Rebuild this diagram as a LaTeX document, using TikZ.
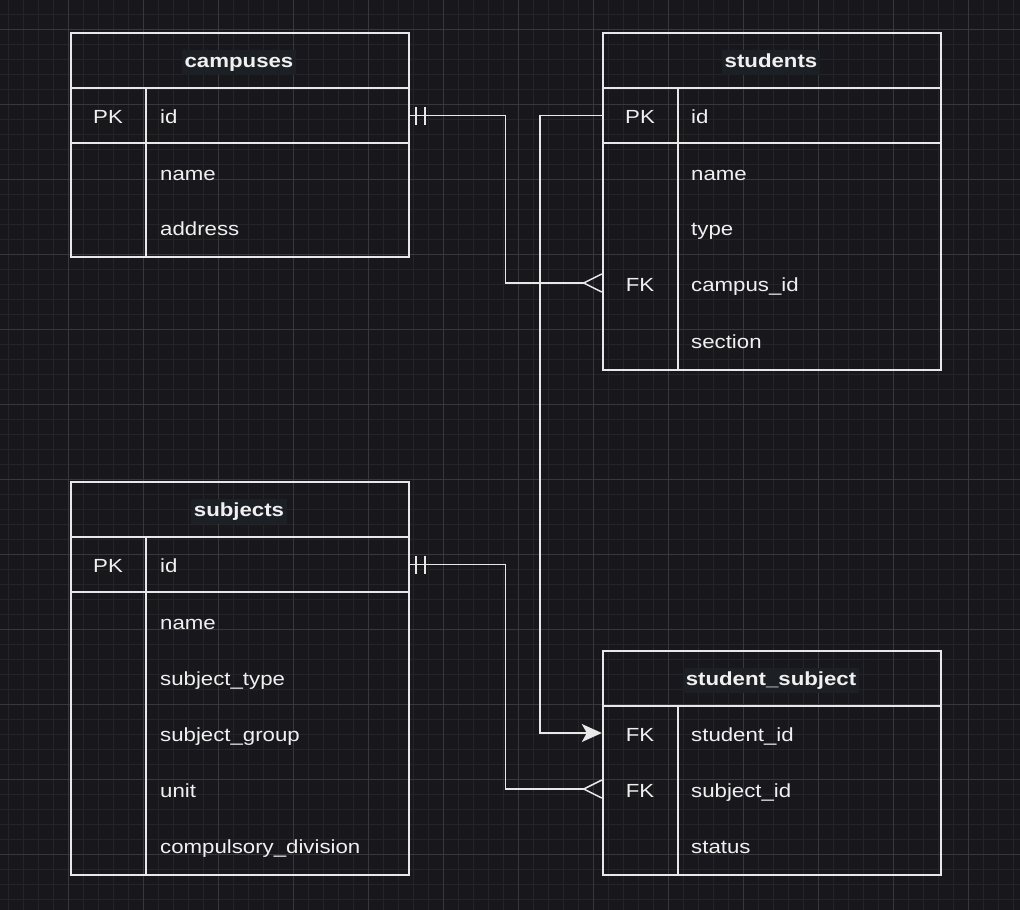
\documentclass[tikz,border=0pt]{standalone}
\usepackage{fontspec}
\setmainfont{Liberation Sans}[FakeStretch=1.17]
\usetikzlibrary{arrows.meta}
\definecolor{bg}{HTML}{18171C}
\definecolor{minorc}{HTML}{252429}
\definecolor{majorc}{HTML}{38383C}
\definecolor{linec}{HTML}{E8E8E8}
\definecolor{textc}{HTML}{F0F0F0}
\definecolor{labelbg}{HTML}{1C2024}
\begin{document}
\begin{tikzpicture}[x=1pt,y=-1pt,
  minorgrid/.style={draw=minorc,line width=1pt},
  majorgrid/.style={draw=majorc,line width=1pt},
  frame/.style={draw=linec,line width=1.5pt,anchor=north west,inner sep=0pt,minimum width=338pt},
  sep/.style={draw=linec,line width=1.5pt},
  hdr/.style={fill=labelbg,text=textc,font=\fontsize{19pt}{22pt}\selectfont\bfseries,inner xsep=3pt,inner ysep=3pt,text height=14pt,text depth=4.5pt,anchor=center},
  fld/.style={text=textc,font=\fontsize{19pt}{22pt}\selectfont,inner sep=0pt,anchor=base west},
  key/.style={text=textc,font=\fontsize{19pt}{22pt}\selectfont,inner sep=0pt,anchor=base},
  rowbox/.style={inner sep=0pt,minimum width=338pt,minimum height=55pt},
  conn/.style={draw=linec,line width=1.5pt},
]
\fill[bg] (0,0) rectangle (1020,910);
\useasboundingbox (0,0) rectangle (1020,910);
% grid
\foreach \x in {8,23,...,1013} \draw[minorgrid] (\x,0) -- (\x,910);
\foreach \y in {14,29,...,905} \draw[minorgrid] (0,\y) -- (1020,\y);
\foreach \x in {68,143,...,1000} \draw[majorgrid] (\x,0) -- (\x,910);
\foreach \y in {29,104,...,900} \draw[majorgrid] (0,\y) -- (1020,\y);

% ---------- campuses ----------
\node[frame,minimum height=224pt] (campuses) at (70,32) {};
\draw[sep] (70,88) -- (408,88);
\draw[sep] (70,143) -- (408,143);
\draw[sep] (146,88) -- (146,256);
\node[hdr] (campuses-h) at (239,62.5) {campuses};
\node[rowbox] (camp-id) at (239,115.5) {};
\node[key] (camp-pk) at (108,123) {PK};
\node[fld] (camp-f1) at (160,123) {id};
\node[fld] (camp-f2) at (160,180) {name};
\node[fld] (camp-f3) at (160,235) {address};

% ---------- students ----------
\node[frame,minimum height=337pt] (students) at (602,32) {};
\draw[sep] (602,88) -- (940,88);
\draw[sep] (602,143) -- (940,143);
\draw[sep] (678,88) -- (678,369);
\node[hdr] (students-h) at (771,62.5) {students};
\node[rowbox] (stu-id) at (771,115.5) {};
\node[rowbox] (stu-campus) at (771,283) {};
\node[key] (stu-pk) at (640,123) {PK};
\node[key] (stu-fk) at (640,291) {FK};
\node[fld] (stu-f1) at (691,123) {id};
\node[fld] (stu-f2) at (691,180) {name};
\node[fld] (stu-f3) at (691,235) {type};
\node[fld] (stu-f4) at (691,291) {campus\_id};
\node[fld] (stu-f5) at (691,348) {section};

% ---------- subjects ----------
\node[frame,minimum height=393pt] (subjects) at (70,481) {};
\draw[sep] (70,537) -- (408,537);
\draw[sep] (70,592) -- (408,592);
\draw[sep] (146,537) -- (146,874);
\node[hdr] (subjects-h) at (239,511.5) {subjects};
\node[rowbox] (sub-id) at (239,564.5) {};
\node[key] (sub-pk) at (108,572) {PK};
\node[fld] (sub-f1) at (160,572) {id};
\node[fld] (sub-f2) at (160,629) {name};
\node[fld] (sub-f3) at (160,685) {subject\_type};
\node[fld] (sub-f4) at (160,741) {subject\_group};
\node[fld] (sub-f5) at (160,797) {unit};
\node[fld] (sub-f6) at (160,853) {compulsory\_division};

% ---------- student_subject ----------
\node[frame,minimum height=224pt] (studsub) at (602,650) {};
\draw[sep] (602,706) -- (940,706);
\draw[sep] (678,706) -- (678,874);
\node[hdr] (studsub-h) at (771,680.5) {student\_subject};
\node[rowbox] (ss-student) at (771,733) {};
\node[rowbox] (ss-subject) at (771,789) {};
\node[key] (ss-fk1) at (640,741) {FK};
\node[key] (ss-fk2) at (640,797) {FK};
\node[fld] (ss-f1) at (691,741) {student\_id};
\node[fld] (ss-f2) at (691,797) {subject\_id};
\node[fld] (ss-f3) at (691,853) {status};

% ---------- connectors ----------
% campuses.id -> students.campus_id
\draw[conn] (camp-id.east) -- ++(97.5,0) |- ([xshift=-18pt]stu-campus.west);
\draw[conn] ([xshift=8pt,yshift=-9pt]camp-id.east) -- ([xshift=8pt,yshift=9pt]camp-id.east);
\draw[conn] ([xshift=17pt,yshift=-9pt]camp-id.east) -- ([xshift=17pt,yshift=9pt]camp-id.east);
\draw[conn] ([yshift=9pt]stu-campus.west) -- ([xshift=-18pt]stu-campus.west) -- ([yshift=-9pt]stu-campus.west);

% students.id -> student_subject.student_id
\draw[conn,-{Stealth[length=20pt,width=18pt,inset=5pt]}] (stu-id.west) -- ++(-62,0) |- (ss-student.west);

% subjects.id -> student_subject.subject_id
\draw[conn] (sub-id.east) -- ++(97.5,0) |- ([xshift=-18pt]ss-subject.west);
\draw[conn] ([xshift=8pt,yshift=-9pt]sub-id.east) -- ([xshift=8pt,yshift=9pt]sub-id.east);
\draw[conn] ([xshift=17pt,yshift=-9pt]sub-id.east) -- ([xshift=17pt,yshift=9pt]sub-id.east);
\draw[conn] ([yshift=9pt]ss-subject.west) -- ([xshift=-18pt]ss-subject.west) -- ([yshift=-9pt]ss-subject.west);
\end{tikzpicture}
\end{document}
